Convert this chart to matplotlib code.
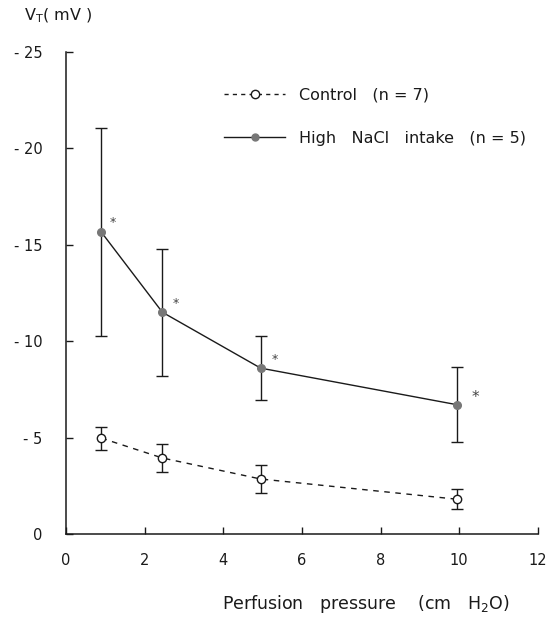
import matplotlib
matplotlib.use("Agg")
import matplotlib.pyplot as plt
from matplotlib.lines import Line2D

# Perfusion pressure (cm H2O)
pressure = [0.9, 2.45, 4.95, 9.95]

# Transepithelial voltage magnitude (mV) and error
control_mean = [4.97, 3.94, 2.85, 1.8]
control_err = [0.6, 0.75, 0.75, 0.52]
nacl_mean = [15.65, 11.5, 8.6, 6.7]
nacl_err = [5.4, 3.3, 1.65, 1.95]

yticks = [0, 5, 10, 15, 20, 25]
ytick_labels = ["0", "- 5", "- 10", "- 15", "- 20", "- 25"]
xticks = [0, 2, 4, 6, 8, 10, 12]
xtick_labels = ["0", "2", "4", "6", "8", "10", "12"]

ink = "#1a1a1a"
plt.rcParams["font.family"] = ["DejaVu Sans"]

fig = plt.figure(figsize=(5.5, 6.18), dpi=100)
ax = fig.add_axes([0.12, 0.136, 0.858, 0.78])

ax.errorbar(pressure, control_mean, yerr=control_err, fmt="o", mfc="white",
            mec=ink, ms=6, mew=1.0, ecolor=ink, elinewidth=1.0, capsize=4,
            capthick=1.0, zorder=3)
ax.plot(pressure, control_mean, ls=(0, (4, 4)), color=ink, lw=1.0, zorder=2)

ax.errorbar(pressure, nacl_mean, yerr=nacl_err, fmt="o", mfc="#777777",
            mec="#777777", ms=5.5, ecolor=ink, elinewidth=1.0, capsize=4,
            capthick=1.0, zorder=3)
ax.plot(pressure, nacl_mean, ls="-", color=ink, lw=1.0, zorder=2)

# significance marks
star_dx = [0.3, 0.35, 0.35, 0.45]
star_dy = [0.5, 0.45, 0.45, 0.4]
star_size = [9, 9, 9, 11]
for x, y, dx, dy, s in zip(pressure, nacl_mean, star_dx, star_dy, star_size):
    ax.text(x + dx, y + dy, "*", fontsize=s, color="#444444",
            ha="center", va="center")

ax.set_xlim(0, 12)
ax.set_ylim(0, 25)
ax.set_xticks(xticks)
ax.set_xticklabels(xtick_labels)
ax.set_yticks(yticks)
ax.set_yticklabels(ytick_labels)
ax.tick_params(axis="both", direction="in", length=5, width=1.0,
               colors=ink, labelsize=10.5)
ax.tick_params(axis="y", pad=17)
ax.tick_params(axis="x", pad=14)
for side in ("top", "right"):
    ax.spines[side].set_visible(False)
for side in ("left", "bottom"):
    ax.spines[side].set_color(ink)
    ax.spines[side].set_linewidth(1.1)

fig.text(0.043, 0.975, r"V$_\mathrm{T}$( mV )", fontsize=11.5, color=ink,
         ha="left", va="center")
fig.text(0.665, 0.022, r"Perfusion   pressure    (cm   H$_2$O)",
         fontsize=12.5, color=ink, ha="center", va="center")

handles = [
    Line2D([], [], ls=(0, (3, 3)), color=ink, lw=1.0, marker="o", mfc="white",
           mec=ink, ms=6),
    Line2D([], [], ls="-", color=ink, lw=1.0, marker="o", mfc="#777777",
           mec="#777777", ms=5),
]
labels = ["Control   (n = 7)", "High   NaCl   intake   (n = 5)"]
ax.legend(handles, labels, loc="upper left", bbox_to_anchor=(0.305, 0.955),
          frameon=False, fontsize=11.5, handlelength=3.8, labelspacing=1.75,
          handletextpad=0.9, labelcolor=ink)

fig.savefig("out.png", dpi=100)
